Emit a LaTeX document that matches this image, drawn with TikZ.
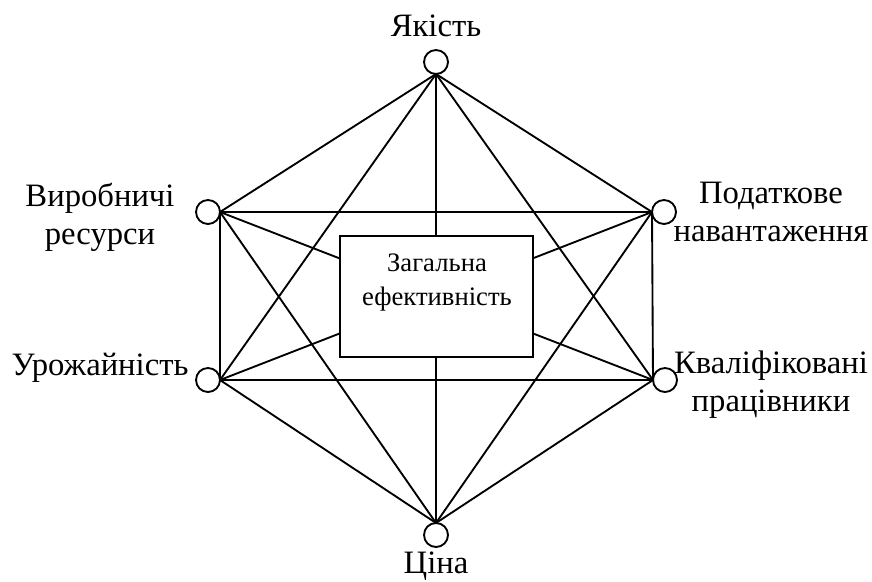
\documentclass[tikz,border=0pt]{standalone}
\usepackage{fontspec}
\setmainfont{Liberation Serif}
\begin{document}
\begin{tikzpicture}[x=0.75pt,y=-0.75pt,
  edge/.style={line width=1.4pt},
  vert/.style={circle,draw,line width=1.4pt,minimum size=18pt,inner sep=0pt,outer sep=0pt,fill=white},
  lbl/.style={font=\fontsize{24.5}{28.5}\selectfont,align=center,inner sep=0pt},
  mainbox/.style={draw,fill=white,line width=1.4pt,minimum width=144.75pt,minimum height=90.75pt,inner sep=0pt,outer sep=0pt}]
\useasboundingbox (0,0) rectangle (872,582);
% vertices
\node[vert] (q) at (436,62) {};
\node[vert] (r) at (208,212) {};
\node[vert] (t) at (664,212) {};
\node[vert] (y) at (208,380) {};
\node[vert] (k) at (665,380) {};
\node[vert] (p) at (436,535) {};
% edges
\draw[edge] (q.south) -- (r.east);
\draw[edge] (q.south) -- (t.west);
\draw[edge] (q.south) -- (y.east);
\draw[edge] (q.south) -- (k.west);
\draw[edge] (q.south) -- (p.north);
\draw[edge] (r.east) -- (t.west);
\draw[edge] (r.east) -- (y.east);
\draw[edge] (r.east) -- (k.west);
\draw[edge] (r.east) -- (p.north);
\draw[edge] (t.west) -- (y.east);
\draw[edge] (t.west) -- (k.west);
\draw[edge] (t.west) -- (p.north);
\draw[edge] (y.east) -- (k.west);
\draw[edge] (y.east) -- (p.north);
\draw[edge] (k.west) -- (p.north);
% central box
\node[mainbox] (box) at (436.5,296.5) {};
\node[font=\fontsize{20}{25}\selectfont,align=center,inner sep=0pt,anchor=north] (boxtext) at (437,254) {Загальна\\ефективність};
% labels
\node[lbl,anchor=base] (lq) at (436,36) {Якість};
\node[lbl] (lr) at (100,217) {Виробничі\\ресурси};
\node[lbl] (lt) at (771,212) {Податкове\\навантаження};
\node[lbl,anchor=base] (ly) at (100,375) {Урожайність};
\node[lbl] (lk) at (771,385) {Кваліфіковані\\працівники};
\node[lbl,anchor=base] (lp) at (436,573) {Ціна};
\end{tikzpicture}
\end{document}
